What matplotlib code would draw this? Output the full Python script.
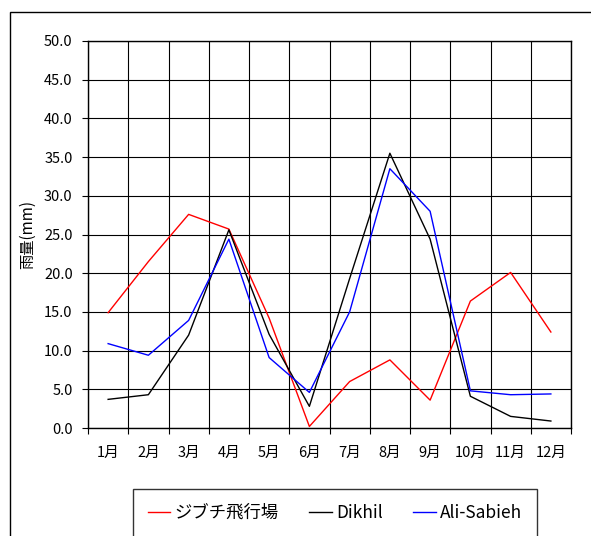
import numpy as np
import matplotlib.pyplot as plt
from matplotlib.patches import Rectangle

plt.rcParams['font.family'] = ['Noto Sans CJK JP', 'DejaVu Sans']

# Monthly rainfall (mm) ...........................................................

months = ['1月', '2月', '3月', '4月', '5月', '6月', '7月', '8月', '9月', '10月', '11月', '12月']
djibouti_airport = [14.9, 21.5, 27.6, 25.7, 14.2, 0.2, 6.0, 8.8, 3.6, 16.4, 20.1, 12.4]
dikhil = [3.7, 4.3, 12.0, 25.6, 12.1, 2.8, 19.3, 35.5, 24.4, 4.1, 1.5, 0.9]
ali_sabieh = [10.9, 9.4, 13.9, 24.4, 9.1, 4.6, 15.0, 33.5, 28.0, 4.8, 4.3, 4.4]

series_names = ['ジブチ飛行場', 'Dikhil', 'Ali-Sabieh']
series_colors = ['#ff0000', '#000000', '#0000ff']

# Figure ...........................................................................

W, H = 591, 536
fig = plt.figure(figsize = (W / 100, H / 100), dpi = 100)

# outer chart frame (right and bottom edges run off the canvas)
fig.patches.append(Rectangle((10 / W, -0.1), 1.2, 1 - 12 / H + 0.1, transform = fig.transFigure,
                             fill = False, edgecolor = 'black', lw = 1.0))

ax = fig.add_axes([88 / W, 1 - 428 / H, 483 / W, 387 / H])

x = np.arange(len(months)) + 0.5
for vals, name, col in zip([djibouti_airport, dikhil, ali_sabieh], series_names, series_colors):
    ax.plot(x, vals, color = col, lw = 1.0, label = name)

ax.set_xlim(0, 12)
ax.set_ylim(0, 50)

# boundaries carry the grid, centers carry the month labels
ax.set_xticks(np.arange(13))
ax.set_xticklabels([])
ax.set_xticks(x, minor = True)
ax.set_xticklabels(months, minor = True, fontsize = 10.5)
ax.tick_params(axis = 'x', which = 'minor', length = 0, pad = 13)
ax.tick_params(axis = 'x', which = 'major', length = 4, direction = 'out', width = 0.8)

ax.set_yticks(np.arange(0, 51, 5))
ax.set_yticklabels([f'{v:.1f}' for v in np.arange(0, 51, 5)], fontsize = 10.5)
ax.tick_params(axis = 'y', length = 4, direction = 'out', width = 0.8, pad = 7)

ax.grid(True, which = 'major', color = 'black', lw = 0.8)
ax.set_axisbelow(True)
for s in ax.spines.values():
    s.set_linewidth(1.0)

ax.set_ylabel('雨量(mm)', fontsize = 11, labelpad = 6)

# Legend ...........................................................................

fig.legend(loc = 'upper left', bbox_to_anchor = (133 / W, 1 - 489 / H), ncol = 3,
           fontsize = 12.5, frameon = True, fancybox = False, edgecolor = 'black',
           handlelength = 1.3, handletextpad = 0.25, columnspacing = 1.75,
           borderpad = 0.85, borderaxespad = 0)

fig.savefig('out.png', dpi = 100)
